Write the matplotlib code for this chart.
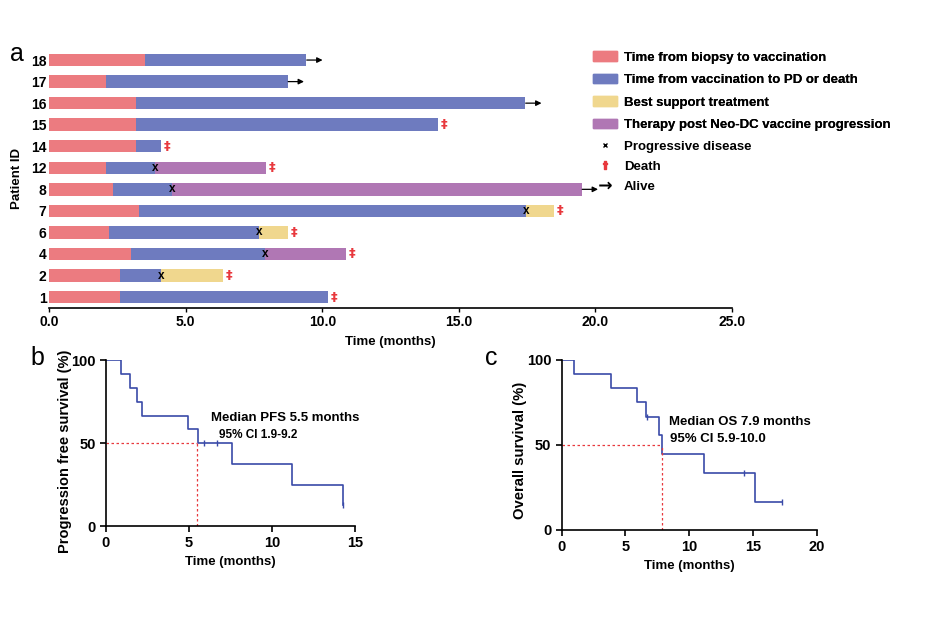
import matplotlib
matplotlib.use("Agg")
import matplotlib.pyplot as plt
from matplotlib.patches import Patch
from matplotlib.lines import Line2D

plt.rcParams['font.family'] = ['Liberation Sans', 'DejaVu Sans']
plt.rcParams['font.weight'] = 'bold'
plt.rcParams['axes.labelweight'] = 'bold'

# --- panel a: swimmer plot data (top to bottom) ---
patients = ['18', '17', '16', '15', '14', '12', '8', '7', '6', '4', '2', '1']
vacc_start = [3.5, 2.07, 3.17, 3.17, 3.17, 2.07, 2.32, 3.27, 2.2, 2.99, 2.59, 2.59]
vacc_end = [9.41, 8.73, 17.43, 14.23, 4.1, 3.89, 4.49, 17.46, 7.69, 7.91, 4.1, 10.22]
bst_end = [0, 0, 0, 0, 0, 0, 0, 18.5, 8.73, 0, 6.37, 0]
therapy_end = [0, 0, 0, 0, 0, 7.95, 19.5, 0, 0, 10.88, 0, 0]
progression = [0, 0, 0, 0, 0, 3.89, 4.49, 17.46, 7.69, 7.91, 4.1, 0]
outcome = ['alive', 'alive', 'alive', 'death', 'death', 'death', 'alive',
           'death', 'death', 'death', 'death', 'death']

# --- panel b: PFS Kaplan-Meier ---
pfs_t = [0, 0.88, 1.45, 1.85, 2.2, 4.92, 5.52, 7.61, 11.18, 14.26]
pfs_s = [100, 91.7, 83.3, 75, 66.7, 58.3, 50, 37.5, 25, 12.5]
pfs_cens_t = [5.9, 6.67, 14.26]
pfs_cens_s = [50, 50, 12.5]
pfs_median = 5.5

# --- panel c: OS Kaplan-Meier ---
os_t = [0, 0.99, 3.87, 5.9, 6.59, 7.63, 7.9, 11.16, 15.2, 17.25]
os_s = [100, 91.7, 83.3, 75, 66.7, 55.6, 44.4, 33.3, 16.7, 16.7]
os_cens_t = [6.65, 14.33, 17.25]
os_cens_s = [66.7, 33.3, 16.7]
os_median = 7.9

c_pink = '#EC7B80'
c_blue = '#6E7BBF'
c_yellow = '#F0D78E'
c_purple = '#B077B4'
c_km = '#3A4AA8'
c_red = '#E8383D'

fig = plt.figure(figsize=(9.37, 6.4), dpi=100)

# ---------------- panel a ----------------
ax = fig.add_axes([0.0526, 0.519, 0.7284, 0.404])
n = len(patients)
h = 0.58
for i in range(n):
    y = n - 1 - i
    ax.barh(y, vacc_start[i], left=0, height=h, color=c_pink)
    ax.barh(y, vacc_end[i] - vacc_start[i], left=vacc_start[i], height=h, color=c_blue)
    end = vacc_end[i]
    if bst_end[i]:
        ax.barh(y, bst_end[i] - end, left=end, height=h, color=c_yellow)
        end = bst_end[i]
    if therapy_end[i]:
        ax.barh(y, therapy_end[i] - end, left=end, height=h, color=c_purple)
        end = therapy_end[i]
    if progression[i]:
        ax.text(progression[i], y, 'x', ha='center', va='center', fontsize=8.5,
                color='black')
    if outcome[i] == 'death':
        ax.text(end + 0.22, y, '‡', ha='center', va='center', fontsize=9.5,
                color=c_red, family='DejaVu Sans', fontweight='bold')
    else:
        ax.annotate('', xy=(end + 0.6, y), xytext=(end + 0.02, y),
                    arrowprops=dict(arrowstyle='-|>', color='black', lw=0.9,
                                    mutation_scale=8, shrinkA=0, shrinkB=0))

ax.set_xlim(0, 25)
ax.set_ylim(-0.5, n - 0.5)
ax.set_yticks(range(n))
ax.set_yticklabels(patients[::-1], fontsize=10)
ax.set_xticks([0, 5, 10, 15, 20, 25])
ax.set_xticklabels(['0.0', '5.0', '10.0', '15.0', '20.0', '25.0'], fontsize=10)
ax.tick_params(axis='y', length=0, pad=2)
ax.tick_params(axis='x', length=3, width=1, pad=2)
for s in ['top', 'right', 'left']:
    ax.spines[s].set_visible(False)
ax.spines['bottom'].set_linewidth(1.2)
ax.set_xlabel('Time (months)', fontsize=9.5, labelpad=5)
ax.set_ylabel('Patient ID', fontsize=9.5, labelpad=6)

bar_handles = [
    Patch(color=c_pink, label='Time from biopsy to vaccination'),
    Patch(color=c_blue, label='Time from vaccination to PD or death'),
    Patch(color=c_yellow, label='Best support treatment'),
    Patch(color=c_purple, label='Therapy post Neo-DC vaccine progression'),
]
mark_handles = [
    Line2D([], [], ls='none', marker='x', color='black', markersize=3.5,
           markeredgewidth=1, label='Progressive disease'),
    Line2D([], [], ls='none', marker=r'$\dag$', color=c_red, markersize=6,
           label='Death'),
    Line2D([], [], ls='none', marker=r'$\rightarrow$', color='black', markersize=9,
           markeredgewidth=0, label='Alive'),
]
leg1 = fig.legend(handles=bar_handles, loc='upper left', bbox_to_anchor=(0.627, 0.928),
                  frameon=False, fontsize=9.5, handlelength=1.8, handleheight=0.7,
                  labelspacing=0.78, handletextpad=0.55, borderaxespad=0)
fig.add_artist(leg1)
fig.legend(handles=mark_handles, loc='upper left', bbox_to_anchor=(0.627, 0.789),
           frameon=False, fontsize=9.5, handlelength=1.8, handleheight=0.7,
           labelspacing=0.6, handletextpad=0.55, borderaxespad=0)

fig.text(0.011, 0.905, 'a', fontsize=18, fontweight='normal')

# ---------------- panel b ----------------
axb = fig.add_axes([0.1131, 0.178, 0.2657, 0.259])
axb.step(pfs_t, pfs_s, where='post', color=c_km, lw=1.2)
axb.plot(pfs_cens_t, pfs_cens_s, ls='none', marker='|', color=c_km, markersize=4)
axb.plot([0, pfs_median], [50, 50], color=c_red, ls=(0, (2, 2)), lw=0.9)
axb.plot([pfs_median, pfs_median], [0, 50], color=c_red, ls=(0, (2, 2)), lw=0.9)
axb.set_xlim(0, 15)
axb.set_ylim(0, 100)
axb.set_xticks([0, 5, 10, 15])
axb.set_yticks([0, 50, 100])
axb.tick_params(labelsize=10.5, length=4, width=1.2)
for s in ['top', 'right']:
    axb.spines[s].set_visible(False)
for s in ['left', 'bottom']:
    axb.spines[s].set_linewidth(1.2)
axb.set_xlabel('Time (months)', fontsize=9.5)
axb.set_ylabel('Progression free survival (%)', fontsize=10.5)
axb.yaxis.set_label_coords(-0.137, 0.45)
axb.text(6.35, 65, 'Median PFS 5.5 months', fontsize=9.5, va='center')
axb.text(6.8, 54.8, '95% CI 1.9-9.2', fontsize=8.5, va='center')
fig.text(0.032, 0.43, 'b', fontsize=18, fontweight='normal')

# ---------------- panel c ----------------
axc = fig.add_axes([0.5995, 0.172, 0.2721, 0.2656])
axc.step(os_t, os_s, where='post', color=c_km, lw=1.2)
axc.plot(os_cens_t, os_cens_s, ls='none', marker='|', color=c_km, markersize=4)
axc.plot([0, os_median], [50, 50], color=c_red, ls=(0, (2, 2)), lw=0.9)
axc.plot([os_median, os_median], [0, 50], color=c_red, ls=(0, (2, 2)), lw=0.9)
axc.set_xlim(0, 20)
axc.set_ylim(0, 100)
axc.set_xticks([0, 5, 10, 15, 20])
axc.set_yticks([0, 50, 100])
axc.tick_params(labelsize=10.5, length=4, width=1.2)
for s in ['top', 'right']:
    axc.spines[s].set_visible(False)
for s in ['left', 'bottom']:
    axc.spines[s].set_linewidth(1.2)
axc.set_xlabel('Time (months)', fontsize=9.5)
axc.set_ylabel('Overall survival (%)', fontsize=10.7)
axc.yaxis.set_label_coords(-0.136, 0.47)
axc.text(8.42, 63.5, 'Median OS 7.9 months', fontsize=9.5, va='center')
axc.text(8.5, 53.5, '95% CI 5.9-10.0', fontsize=9.5, va='center')
fig.text(0.518, 0.43, 'c', fontsize=18, fontweight='normal')

fig.savefig('out.png', dpi=100)
